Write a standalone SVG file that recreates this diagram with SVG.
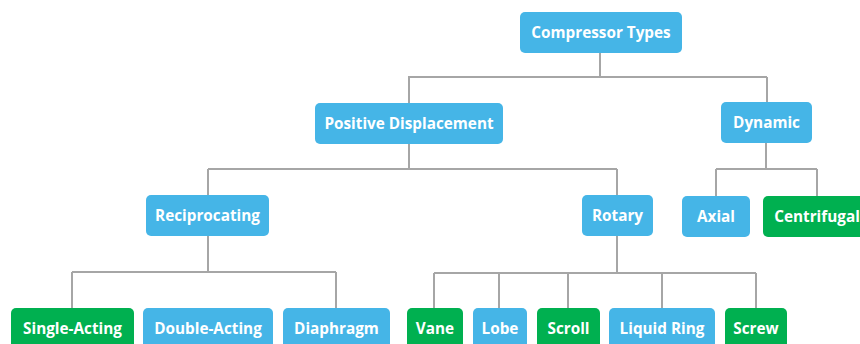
<svg xmlns="http://www.w3.org/2000/svg" width="860" height="344" viewBox="0 0 860 344">
<style>
.b{fill:#45b5e7}
.g{fill:#00b050}
text{font-family:"Open Sans","Liberation Sans",sans-serif;font-weight:bold;font-size:15.3px;fill:#fff;text-anchor:middle}
.c{fill:none;stroke:#a6a6a6;stroke-width:2}
</style>
<rect width="860" height="344" fill="#fff"/>
<g id="connectors" class="c">
<path d="M600 53V77M408 77H767M409 77V103M767 77V102"/>
<path d="M409 144V169M208 169H617M208 169V195M617 169V195"/>
<path d="M766 143V169M716 169H817M716 169V196M817 169V196"/>
<path d="M208 236V272M72 272H336M72 272V308M336 272V308"/>
<path d="M617 236V273M434 273H756M434 273V308M499 273V308M568 273V308M662 273V308M756 273V308"/>
</g>
<g id="n-compressor"><rect class="b" x="520" y="12" width="162" height="41" rx="5"/><text x="601" y="38">Compressor Types</text></g>
<g id="n-positive"><rect class="b" x="315" y="103" width="188" height="41" rx="5"/><text x="409" y="129">Positive Displacement</text></g>
<g id="n-dynamic"><rect class="b" x="721" y="102" width="91" height="41" rx="5"/><text x="766.5" y="128">Dynamic</text></g>
<g id="n-reciprocating"><rect class="b" x="146" y="195" width="123" height="41" rx="5"/><text x="207.5" y="221">Reciprocating</text></g>
<g id="n-rotary"><rect class="b" x="582" y="195" width="71" height="41" rx="5"/><text x="617.5" y="221">Rotary</text></g>
<g id="n-axial"><rect class="b" x="682" y="196" width="68" height="41" rx="5"/><text x="716" y="222">Axial</text></g>
<g id="n-centrifugal"><rect class="g" x="763" y="196" width="108" height="41" rx="5"/><text x="817" y="222">Centrifugal</text></g>
<g id="n-single"><rect class="g" x="11" y="308" width="123" height="41" rx="5"/><text x="72.5" y="334">Single-Acting</text></g>
<g id="n-double"><rect class="b" x="143" y="308" width="130" height="41" rx="5"/><text x="208" y="334">Double-Acting</text></g>
<g id="n-diaphragm"><rect class="b" x="283" y="308" width="107" height="41" rx="5"/><text x="336.5" y="334">Diaphragm</text></g>
<g id="n-vane"><rect class="g" x="407" y="308" width="56" height="41" rx="5"/><text x="435" y="334">Vane</text></g>
<g id="n-lobe"><rect class="b" x="473" y="308" width="54" height="41" rx="5"/><text x="500" y="334">Lobe</text></g>
<g id="n-scroll"><rect class="g" x="537" y="308" width="63" height="41" rx="5"/><text x="568.5" y="334">Scroll</text></g>
<g id="n-liquid"><rect class="b" x="609" y="308" width="106" height="41" rx="5"/><text x="662" y="334">Liquid Ring</text></g>
<g id="n-screw"><rect class="g" x="725" y="308" width="62" height="41" rx="5"/><text x="756" y="334">Screw</text></g>
</svg>
